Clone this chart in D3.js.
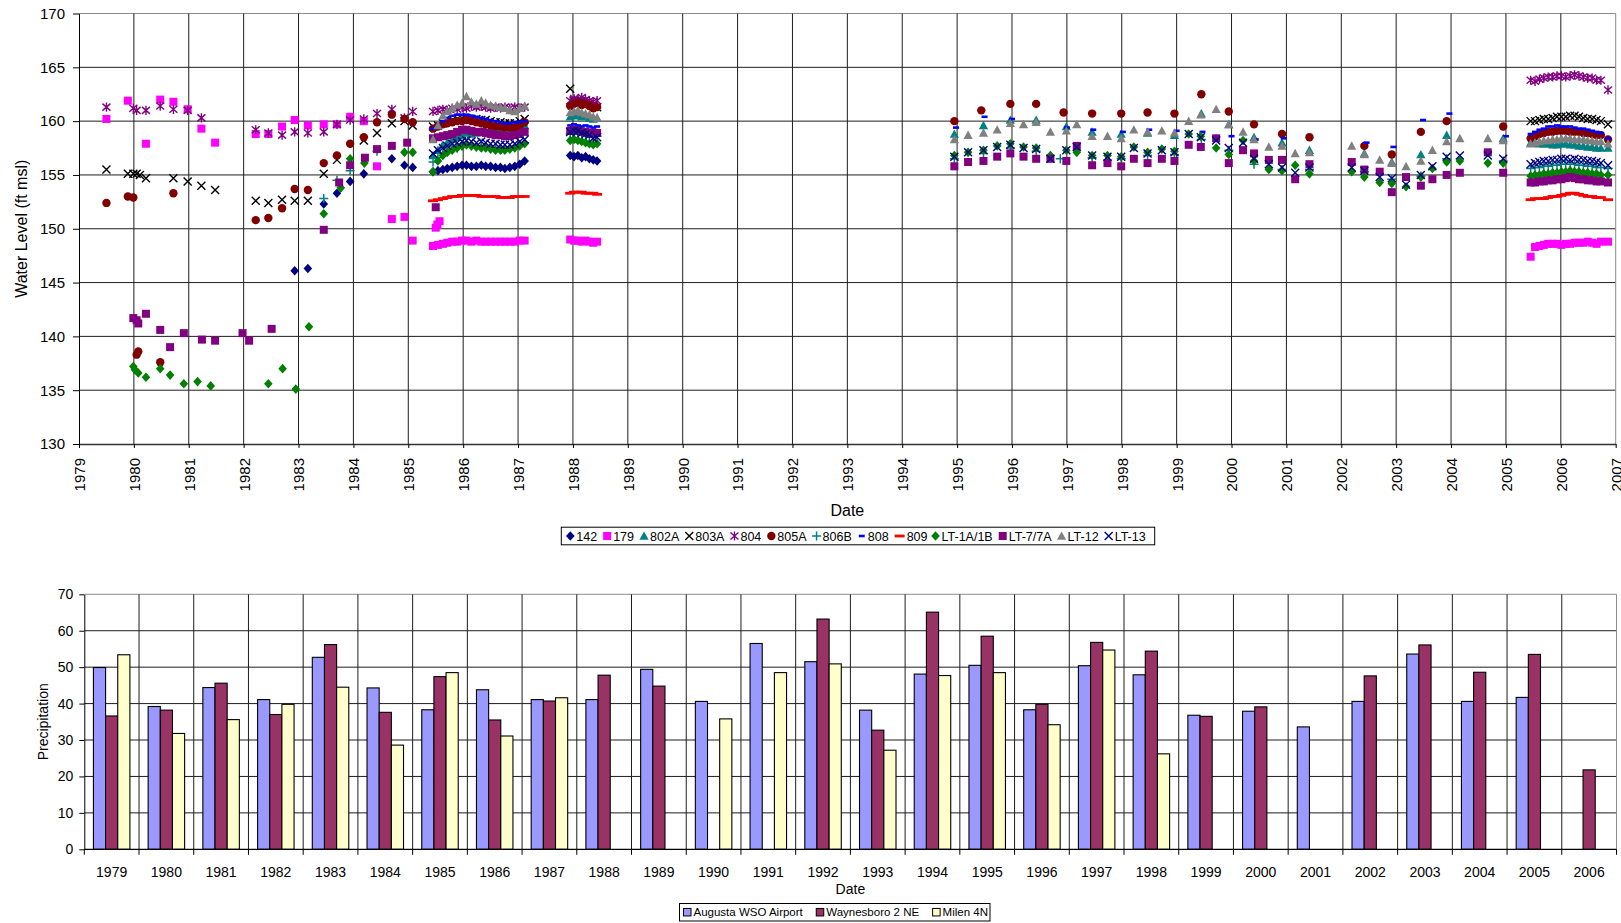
<!DOCTYPE html>
<html><head><meta charset="utf-8">
<script src="https://cdn.jsdelivr.net/npm/d3@7"></script>
<style>body{margin:0;background:#fff;}svg{display:block;font-family:"Liberation Sans",Arial,sans-serif;}</style>
</head><body><svg id="chart" width="1621" height="923"></svg>
<script>
// ================= DATA =================
const stationNames = ["142","179","802A","803A","804","805A","806B","808","809","LT-1A/1B","LT-7/7A","LT-12","LT-13"];
const yearTicks = [1979,1980,1981,1982,1983,1984,1985,1986,1987,1988,1989,1990,1991,1992,1993,1994,1995,1996,1997,1998,1999,2000,2001,2002,2003,2004,2005,2006,2007];
const levelTicks = [130,135,140,145,150,155,160,165,170];

// sparse observations [decimal year, water level]
const sp142 = [[1982.93,146.1],[1983.17,146.3],[1983.46,152.3],[1983.70,153.3],[1983.94,154.4],[1984.19,155.1],[1984.70,156.5],[1984.93,155.9],[1985.08,155.7]];
const sp179 = [[1979.50,160.2],[1979.89,161.9],[1980.22,157.9],[1980.48,162.0],[1980.72,161.8],[1980.98,161.1],[1981.23,159.3],[1981.48,158.0],[1982.22,158.8],[1982.45,158.8],[1982.70,159.5],[1982.93,160.1],[1983.17,159.6],[1983.46,159.7],[1983.70,159.7],[1983.94,160.4],[1984.19,160.0],[1984.43,155.8],[1984.70,150.9],[1984.93,151.1],[1985.08,148.9],[1985.50,150.1],[1985.53,150.4],[1985.57,150.7]];
const sp802A = [[1994.95,158.8],[1995.48,159.6],[1995.97,160.1],[1996.44,160.1],[1996.99,159.5],[1997.46,159.0],[1997.99,158.8],[1998.47,158.9],[1998.96,158.7],[1999.45,160.7],[1999.95,159.7],[2000.41,158.5],[2000.92,158.0],[2001.42,157.3],[2002.42,157.0],[2002.92,156.2],[2003.45,156.9],[2003.92,158.7],[2004.95,158.4]];
const sp803A = [[1979.50,155.5],[1979.89,155.1],[1979.99,155.1],[1980.05,155.1],[1980.11,155.0],[1980.22,154.7],[1980.72,154.7],[1980.98,154.4],[1981.23,154.0],[1981.48,153.6],[1982.22,152.6],[1982.45,152.4],[1982.70,152.7],[1982.93,152.6],[1983.17,152.6],[1983.46,155.1],[1983.70,156.4],[1984.19,158.2],[1984.43,158.9],[1984.70,159.8],[1984.93,160.0],[1985.08,159.6]];
const sp804 = [[1979.50,161.3],[1979.99,161.2],[1980.05,161.0],[1980.22,161.0],[1980.48,161.4],[1980.72,161.1],[1980.98,161.0],[1981.23,160.3],[1982.22,159.2],[1982.45,158.9],[1982.70,158.7],[1982.93,159.0],[1983.17,158.9],[1983.46,159.0],[1983.70,159.7],[1983.94,160.1],[1984.19,160.2],[1984.43,160.7],[1984.70,161.1],[1984.93,160.3],[1985.08,160.9]];
const sp805A = [[1979.50,152.4],[1979.89,153.0],[1979.99,152.9],[1980.05,138.3],[1980.08,138.6],[1980.48,137.6],[1980.72,153.3],[1982.22,150.8],[1982.45,151.0],[1982.70,151.9],[1982.93,153.7],[1983.17,153.6],[1983.46,156.1],[1983.70,156.8],[1983.94,157.9],[1984.19,158.5],[1984.43,159.9],[1984.70,160.6],[1984.93,160.2],[1985.08,159.9],[1994.95,160.0],[1995.44,161.0],[1995.97,161.6],[1996.44,161.6],[1996.94,160.8],[1997.46,160.7],[1997.99,160.7],[1998.47,160.8],[1998.96,160.7],[1999.45,162.5],[1999.95,160.9],[2000.41,159.7],[2000.92,158.8],[2001.42,158.5],[2002.42,157.7],[2002.92,156.9],[2003.45,159.0],[2003.92,160.0],[2004.95,159.5]];
const sp806B = [[1983.46,152.8],[1983.70,154.5],[1983.94,155.4],[1984.43,157.2],[1994.95,156.5],[1995.48,157.0],[1995.97,157.5],[1996.44,157.2],[1996.88,156.5],[1997.46,156.6],[1997.99,156.5],[1998.47,156.8],[1998.96,156.9],[1999.45,158.3],[1999.95,157.3],[2000.41,156.0],[2000.92,155.5],[2001.42,155.5],[2002.42,155.3],[2002.92,154.6],[2003.45,154.9],[2003.92,156.5],[2004.95,156.3]];
const sp808 = [[1994.98,159.4],[1995.50,160.4],[1996.00,160.2],[1997.00,159.4],[1997.48,159.2],[1998.02,159.0],[1998.50,159.2],[1999.00,159.1],[1999.47,159.0],[2000.00,158.6],[2000.44,158.3],[2000.95,158.4],[2002.46,158.0],[2002.95,157.6],[2003.49,160.1],[2003.97,160.7],[2005.00,158.6]];
const sp809 = [];
const spLT1 = [[1979.99,137.2],[1980.02,136.9],[1980.08,136.6],[1980.22,136.2],[1980.48,137.0],[1980.66,136.4],[1980.91,135.6],[1981.16,135.8],[1981.40,135.4],[1982.45,135.6],[1982.71,137.0],[1982.95,135.1],[1983.19,140.9],[1983.46,151.4],[1983.77,153.8],[1983.94,156.5],[1984.20,156.1],[1984.93,157.1],[1985.08,157.1],[1994.95,156.8],[1995.20,157.1],[1995.48,157.3],[1995.73,157.7],[1995.97,157.9],[1996.21,157.6],[1996.44,157.5],[1996.70,156.8],[1996.99,157.3],[1997.18,157.1],[1997.46,156.8],[1997.74,156.8],[1997.99,156.7],[1998.22,157.6],[1998.47,157.1],[1998.73,157.4],[1998.96,157.2],[1999.22,158.8],[1999.44,158.6],[1999.72,157.5],[1999.95,156.9],[2000.21,158.2],[2000.41,156.3],[2000.68,155.5],[2000.92,155.4],[2001.16,155.9],[2001.42,155.1],[2002.19,155.3],[2002.42,154.8],[2002.70,154.3],[2002.92,154.2],[2003.18,153.9],[2003.45,154.8],[2003.66,155.6],[2003.92,156.2],[2004.16,156.3],[2004.67,156.1],[2004.95,156.1]];
const spLT7 = [[1979.99,141.7],[1980.05,141.5],[1980.08,141.2],[1980.22,142.1],[1980.48,140.6],[1980.66,139.0],[1980.91,140.3],[1981.24,139.7],[1981.48,139.6],[1981.98,140.3],[1982.10,139.6],[1982.51,140.7],[1983.46,149.9],[1983.74,154.3],[1983.94,155.9],[1984.21,156.6],[1984.43,157.4],[1984.70,157.7],[1984.98,158.0],[1985.50,152.0],[1994.95,155.8],[1995.20,156.2],[1995.48,156.3],[1995.73,156.7],[1995.97,157.0],[1996.21,156.7],[1996.44,156.5],[1996.70,156.5],[1996.99,156.3],[1997.18,157.7],[1997.46,155.9],[1997.74,156.1],[1997.99,155.8],[1998.22,156.5],[1998.47,156.1],[1998.73,156.5],[1998.96,156.3],[1999.22,157.8],[1999.44,157.6],[1999.72,158.4],[1999.95,156.1],[2000.21,157.3],[2000.41,157.0],[2000.68,156.4],[2000.92,156.4],[2001.16,154.6],[2001.42,156.0],[2002.19,156.2],[2002.42,155.5],[2002.70,155.3],[2002.92,153.4],[2003.18,154.8],[2003.45,154.0],[2003.66,154.6],[2003.92,155.0],[2004.16,155.2],[2004.67,157.1],[2004.95,155.2]];
const spLT12 = [[1994.95,158.3],[1995.20,158.7],[1995.48,158.9],[1995.73,159.2],[1995.97,159.8],[1996.21,159.7],[1996.44,159.9],[1996.70,159.0],[1996.99,159.1],[1997.18,159.7],[1997.46,158.6],[1997.74,158.6],[1997.99,158.4],[1998.22,159.2],[1998.47,159.0],[1998.73,159.1],[1998.96,158.9],[1999.22,160.0],[1999.44,160.6],[1999.72,161.1],[1999.95,159.7],[2000.21,159.0],[2000.41,158.3],[2000.68,157.6],[2000.92,157.7],[2001.16,157.0],[2001.42,157.1],[2002.19,157.7],[2002.42,156.9],[2002.70,156.4],[2002.92,156.1],[2003.18,155.8],[2003.45,156.3],[2003.66,157.3],[2003.92,158.1],[2004.16,158.4],[2004.67,158.4],[2004.95,158.2]];
const spLT13 = [[1994.95,156.7],[1995.20,157.1],[1995.48,157.3],[1995.73,157.6],[1995.97,157.8],[1996.21,157.5],[1996.44,157.4],[1996.70,156.5],[1996.99,157.3],[1997.18,157.6],[1997.46,156.8],[1997.74,156.7],[1997.99,156.7],[1998.22,157.5],[1998.47,157.0],[1998.73,157.3],[1998.96,157.1],[1999.22,158.8],[1999.44,158.5],[1999.72,158.2],[1999.95,157.5],[2000.21,158.0],[2000.41,156.5],[2000.68,156.0],[2000.92,155.7],[2001.16,155.2],[2001.42,155.7],[2002.19,155.7],[2002.42,155.4],[2002.70,154.8],[2002.92,154.7],[2003.18,154.1],[2003.45,155.0],[2003.66,155.8],[2003.92,156.7],[2004.16,156.8],[2004.67,156.8],[2004.95,156.5]];

// dense monitoring periods: dates and per-station values
const datesA = [1985.45,1985.54,1985.63,1985.71,1985.80,1985.89,1985.98,1986.06,1986.15,1986.24,1986.33,1986.41,1986.50,1986.59,1986.68,1986.76,1986.85,1986.94,1987.03,1987.12];
const datesB = [1987.95,1988.02,1988.09,1988.16,1988.23,1988.30,1988.37,1988.44];
const datesC = [2005.45,2005.53,2005.61,2005.69,2005.77,2005.85,2005.93,2006.01,2006.09,2006.17,2006.25,2006.33,2006.41,2006.49,2006.57,2006.65,2006.73,2006.86];

const a142 = [155.3,155.4,155.5,155.6,155.7,155.8,155.9,155.9,155.8,155.8,155.9,155.8,155.8,155.7,155.7,155.6,155.7,155.8,156.0,156.3];
const a179 = [148.4,148.5,148.6,148.7,148.8,148.8,148.9,148.9,148.8,148.9,148.8,148.8,148.8,148.8,148.8,148.8,148.8,148.8,148.9,148.9];
const a802A = [156.8,157.3,157.8,158.0,158.3,158.5,158.7,158.9,158.8,158.9,159.0,159.1,159.2,159.3,159.3,159.2,159.3,159.4,159.5,159.6];
const a803A = [159.5,159.6,159.8,160.0,160.1,160.2,160.3,160.3,160.2,160.2,160.1,160.1,160.0,159.9,159.9,159.8,159.8,159.8,160.0,160.2];
const a804 = [160.9,161.0,161.1,161.0,161.2,161.1,161.3,161.2,161.4,161.3,161.4,161.3,161.2,161.3,161.2,161.3,161.2,161.3,161.2,161.3];
const a805A = [159.3,159.5,159.7,159.8,159.9,160.0,160.0,160.1,160.0,159.9,159.8,159.7,159.6,159.5,159.5,159.4,159.4,159.4,159.6,159.9];
const a806B = [156.2,156.6,157.0,157.2,157.4,157.5,157.7,157.8,157.7,157.6,157.7,157.6,157.5,157.5,157.4,157.4,157.5,157.6,157.8,158.0];
const a808 = [159.3,159.6,160.0,160.3,160.5,160.6,160.6,160.6,160.5,160.4,160.3,160.2,160.1,160.0,159.9,159.8,159.8,159.9,159.9,160.0];
const a809 = [152.6,152.7,152.8,152.9,153.0,153.0,153.1,153.1,153.1,153.1,153.0,153.0,153.0,153.0,152.9,152.9,152.9,153.0,153.0,153.0];
const aLT1 = [155.3,156.3,156.8,157.1,157.3,157.5,157.7,157.8,157.7,157.6,157.5,157.5,157.4,157.3,157.3,157.3,157.4,157.5,157.7,157.9];
const aLT7 = [158.4,158.5,158.6,158.7,158.8,159.0,159.2,159.2,159.1,159.0,159.0,158.9,158.8,158.7,158.7,158.6,158.6,158.7,158.8,159.0];
const aLT12 = [158.3,159.6,160.5,160.9,161.2,161.5,161.7,162.3,161.8,161.6,161.9,161.7,161.5,161.4,161.3,161.2,161.0,160.9,161.2,161.4];
const aLT13 = [157.0,157.3,157.5,157.7,157.9,158.0,158.1,158.2,158.1,158.0,158.1,158.0,157.9,157.9,157.8,157.8,157.8,157.9,158.1,158.3];

const b142 = [156.8,156.7,156.8,156.6,156.7,156.5,156.4,156.3];
const b179 = [149.0,148.9,148.9,148.8,148.9,148.8,148.7,148.8];
const b802A = [160.4,160.5,160.6,160.4,160.5,160.3,160.2,160.3];
const b803A = [163.0,161.9,161.8,161.9,161.7,161.6,161.4,161.3];
const b804 = [161.9,162.1,162.0,162.2,162.0,161.9,161.8,161.9];
const b805A = [161.4,161.6,161.7,161.5,161.6,161.4,161.2,161.3];
const b806B = [158.8,158.9,158.8,158.7,158.8,158.6,158.5,158.6];
const b808 = [159.6,159.7,159.6,159.5,159.6,159.5,159.4,159.5];
const b809 = [153.3,153.4,153.4,153.4,153.3,153.3,153.3,153.2];
const bLT1 = [158.2,158.3,158.2,158.1,158.0,157.9,157.8,157.9];
const bLT7 = [159.1,159.2,159.1,159.0,159.0,158.9,158.8,158.9];
const bLT12 = [160.8,160.9,161.0,160.8,160.7,160.6,160.4,160.3];
const bLT13 = [159.0,159.1,159.1,158.9,158.8,158.7,158.4,158.5];

const c142 = [];
const c179 = [147.4,148.3,148.4,148.5,148.6,148.6,148.6,148.5,148.6,148.6,148.7,148.7,148.7,148.8,148.7,148.6,148.8,148.8];
const c802A = [158.0,158.0,157.9,157.9,157.9,157.8,157.8,157.9,157.9,157.8,157.8,157.7,157.7,157.6,157.6,157.5,157.5,157.5];
const c803A = [160.0,160.0,160.1,160.2,160.2,160.3,160.4,160.4,160.4,160.5,160.5,160.4,160.3,160.2,160.2,160.1,160.0,159.7];
const c804 = [163.8,163.7,163.9,164.0,164.1,164.1,164.2,164.2,164.1,164.2,164.3,164.2,164.1,164.0,164.0,163.8,163.8,162.9];
const c805A = [158.4,158.6,158.8,158.9,159.0,159.0,159.1,159.1,159.1,159.0,159.0,159.0,158.9,158.9,158.8,158.7,158.7,158.3];
const c806B = [155.6,155.7,155.7,155.8,155.8,155.9,155.9,156.0,156.0,156.0,156.0,155.9,155.9,155.8,155.8,155.7,155.7,155.6];
const c808 = [158.8,159.0,159.2,159.3,159.5,159.5,159.6,159.5,159.5,159.5,159.4,159.3,159.3,159.2,159.1,159.0,158.9,158.4];
const c809 = [152.7,152.8,152.8,152.8,152.9,153.0,153.0,153.1,153.2,153.3,153.3,153.2,153.1,153.0,153.0,152.9,152.9,152.7];
const cLT1 = [154.9,155.0,155.0,155.1,155.1,155.2,155.2,155.3,155.3,155.4,155.3,155.3,155.2,155.2,155.1,155.1,155.0,155.0];
const cLT7 = [154.3,154.3,154.4,154.4,154.5,154.5,154.6,154.6,154.7,154.8,154.7,154.6,154.6,154.5,154.5,154.4,154.4,154.3];
const cLT12 = [157.9,158.0,158.1,158.2,158.2,158.3,158.3,158.4,158.4,158.4,158.3,158.3,158.3,158.2,158.2,158.1,158.1,157.9];
const cLT13 = [156.0,156.1,156.2,156.3,156.3,156.4,156.4,156.5,156.5,156.4,156.5,156.4,156.4,156.3,156.3,156.2,156.1,155.9];

// annual precipitation
const precipYears = ["1979","1980","1981","1982","1983","1984","1985","1986","1987","1988","1989","1990","1991","1992","1993","1994","1995","1996","1997","1998","1999","2000","2001","2002","2003","2004","2005","2006"];
const precipNames = ["Augusta WSO Airport","Waynesboro 2 NE","Milen 4N"];
const augusta = [49.9,39.2,44.4,41.1,52.7,44.3,38.3,43.8,41.1,41.1,49.4,40.6,56.5,51.5,38.2,48.1,50.5,38.3,50.4,47.9,36.8,37.9,33.6,40.6,53.6,40.6,41.7,null];
const waynesboro = [36.6,38.2,45.6,37.0,56.2,37.6,47.4,35.5,40.7,47.8,44.8,null,null,63.2,32.7,65.1,58.5,39.8,56.8,54.4,36.5,39.1,null,47.6,56.1,48.6,53.5,21.8];
const milen = [53.4,31.8,35.6,39.8,44.5,28.6,48.5,31.1,41.6,null,null,35.8,48.5,50.9,27.2,47.7,48.5,34.2,54.7,26.2,null,null,null,null,null,null,null,null];
const precipTicks = [0,10,20,30,40,50,60,70];

// ================= STYLES =================
const sparse = [sp142,sp179,sp802A,sp803A,sp804,sp805A,sp806B,sp808,sp809,spLT1,spLT7,spLT12,spLT13];
const clA = [a142,a179,a802A,a803A,a804,a805A,a806B,a808,a809,aLT1,aLT7,aLT12,aLT13];
const clB = [b142,b179,b802A,b803A,b804,b805A,b806B,b808,b809,bLT1,bLT7,bLT12,bLT13];
const clC = [c142,c179,c802A,c803A,c804,c805A,c806B,c808,c809,cLT1,cLT7,cLT12,cLT13];
const shapes = ["diamond","square","triangle","x","star","circle","plus","dash","longdash","diamond","square","triangle","x"];
const colors = ["#000080","#FF00FF","#008080","#000000","#800080","#800000","#008080","#0000FF","#FF0000","#008000","#800080","#808080","#000080"];
const barColors = ["#9999FF","#993366","#FFFFCC"];

const svg = d3.select("#chart");
const FONT = '"Liberation Sans", Arial, sans-serif';
const GRID = "#1e1e1e", BORDER = "#8c8c8c";

function drawMarker(sel, shape, color){
  if (shape==="circle") return sel.append("circle").attr("r",4.2).attr("fill",color);
  if (shape==="square") return sel.append("rect").attr("x",-4).attr("y",-4).attr("width",8).attr("height",8).attr("fill",color);
  if (shape==="diamond") return sel.append("path").attr("d","M0,-4.8L4.3,0L0,4.8L-4.3,0Z").attr("fill",color);
  if (shape==="triangle") return sel.append("path").attr("d","M0,-4.6L4.6,3.8L-4.6,3.8Z").attr("fill",color);
  if (shape==="x") return sel.append("path").attr("d","M-4,-4L4,4M-4,4L4,-4").attr("stroke",color).attr("stroke-width",1.4).attr("fill","none");
  if (shape==="star") return sel.append("path").attr("d","M-4,-3.5L4,3.5M-4,3.5L4,-3.5M0,-4.6L0,4.6").attr("stroke",color).attr("stroke-width",1.4).attr("fill","none");
  if (shape==="plus") return sel.append("path").attr("d","M-4.5,0L4.5,0M0,-4.5L0,4.5").attr("stroke",color).attr("stroke-width",1.5).attr("fill","none");
  if (shape==="dash") return sel.append("rect").attr("x",-3).attr("y",-1.3).attr("width",6).attr("height",2.6).attr("fill",color);
  if (shape==="longdash") return sel.append("rect").attr("x",-5).attr("y",-1.4).attr("width",10).attr("height",2.8).attr("fill",color);
}

// ================= TOP CHART =================
const P1 = {l:79, r:1615.7, t:13.5, b:444};
const x1 = d3.scaleLinear().domain([yearTicks[0], yearTicks[yearTicks.length-1]]).range([P1.l, P1.r]);
const y1 = d3.scaleLinear().domain([levelTicks[0], levelTicks[levelTicks.length-1]]).range([P1.b, P1.t]);
const g1 = svg.append("g");

g1.append("g").selectAll("line").data(levelTicks.slice(1)).join("line")
  .attr("x1",P1.l).attr("x2",P1.r).attr("y1",d=>y1(d)).attr("y2",d=>y1(d))
  .attr("stroke",(d,i,a)=> i===a.length-1 ? BORDER : GRID).attr("stroke-width",1);
g1.append("g").selectAll("line").data(yearTicks.slice(1)).join("line")
  .attr("x1",d=>x1(d)).attr("x2",d=>x1(d)).attr("y1",P1.t).attr("y2",P1.b)
  .attr("stroke",(d,i,a)=> i===a.length-1 ? BORDER : GRID).attr("stroke-width",1);

// data points
const ptsG = g1.append("g");
stationNames.forEach((name, si) => {
  const pts = sparse[si].slice();
  [[datesA, clA[si]], [datesB, clB[si]], [datesC, clC[si]]].forEach(([ds, vs]) => {
    vs.forEach((v, i) => { if (v != null) pts.push([ds[i], v]); });
  });
  const sg = ptsG.append("g");
  pts.forEach(p => {
    const m = sg.append("g").attr("transform", `translate(${x1(p[0])},${y1(p[1])})`);
    drawMarker(m, shapes[si], colors[si]);
  });
});

// axes
const ax1 = g1.append("g").attr("transform",`translate(${P1.l},0)`)
  .call(d3.axisLeft(y1).tickValues(levelTicks).tickSize(6).tickPadding(8).tickSizeOuter(0));
ax1.attr("font-family",FONT).attr("font-size",15);
ax1.selectAll("text").attr("fill","#000");
ax1.selectAll("line").attr("stroke","#000");
ax1.select(".domain").attr("stroke","#000");

const bx1 = g1.append("g").attr("transform",`translate(0,${P1.b})`)
  .call(d3.axisBottom(x1).tickValues(yearTicks).tickFormat(d3.format("d")).tickSize(4).tickSizeOuter(0));
bx1.attr("font-family",FONT).attr("font-size",15);
bx1.select(".domain").attr("stroke","#333").attr("stroke-width",1.4);
bx1.selectAll("line").attr("stroke","#000");
bx1.selectAll("text").attr("fill","#000").attr("transform","rotate(-90)")
  .attr("text-anchor","end").attr("x",-14).attr("y",0).attr("dy","0.36em");

svg.append("text").attr("transform",`translate(21.7,${(P1.t+P1.b)/2}) rotate(-90)`)
  .attr("text-anchor","middle").attr("dy","0.36em").attr("font-size",16).attr("font-family",FONT).text("Water Level (ft msl)");
svg.append("text").attr("x",(P1.l+P1.r)/2).attr("y",516)
  .attr("text-anchor","middle").attr("font-size",16).attr("font-family",FONT).text("Date");

// top legend
const L1 = {x:561.3, y:527.2, w:593.4, h:17.6};
const lg1 = svg.append("g");
lg1.append("rect").attr("x",L1.x).attr("y",L1.y).attr("width",L1.w).attr("height",L1.h).attr("fill","#fff").attr("stroke","#000").attr("stroke-width",1);
const lgItems = lg1.append("g");
const widths = stationNames.map(n => {
  const t = lgItems.append("text").attr("font-size",12.5).attr("font-family",FONT).text(n);
  const w = t.node().getComputedTextLength(); t.remove(); return w;
});
const totalText = d3.sum(widths);
const itemGap = (L1.w - 8 - totalText - stationNames.length*8) / stationNames.length;
let cx = L1.x + 5;
stationNames.forEach((n, i) => {
  const mx = cx + 4 + (shapes[i]==="longdash" ? 1 : 0);
  const m = lgItems.append("g").attr("transform",`translate(${mx},${L1.y + L1.h/2})`);
  drawMarker(m, shapes[i], colors[i]);
  const tx = cx + 10 + (shapes[i]==="longdash" ? 2 : 0);
  lgItems.append("text").attr("x",tx).attr("y",L1.y + L1.h/2).attr("dy","0.36em")
    .attr("font-size",12.5).attr("font-family",FONT).text(n);
  cx = tx + widths[i] + itemGap - 2 - (shapes[i]==="longdash" ? 2 : 0);
});

// ================= BOTTOM CHART =================
const P2 = {l:84.3, r:1616.5, t:594.3, b:849.3};
const x2 = d3.scaleBand().domain(precipYears).range([P2.l, P2.r]).padding(0);
const y2 = d3.scaleLinear().domain([precipTicks[0], precipTicks[precipTicks.length-1]]).range([P2.b, P2.t]);
const bw = x2.bandwidth() / 4.5;
const xs = d3.scaleBand().domain([0,1,2]).range([0, 3*bw]).padding(0);
const off = (x2.bandwidth() - 3*bw) / 2;
const g2 = svg.append("g");

g2.append("g").selectAll("line").data(precipTicks.slice(1)).join("line")
  .attr("x1",P2.l).attr("x2",P2.r).attr("y1",d=>y2(d)).attr("y2",d=>y2(d))
  .attr("stroke",(d,i,a)=> i===a.length-1 ? BORDER : GRID);
const bounds = precipYears.slice(1).map(y => x2(y)).concat([P2.r]);
g2.append("g").selectAll("line").data(bounds).join("line")
  .attr("x1",d=>d).attr("x2",d=>d).attr("y1",P2.t).attr("y2",P2.b)
  .attr("stroke",(d,i,a)=> i===a.length-1 ? BORDER : GRID);

[augusta, waynesboro, milen].forEach((series, si) => {
  const data = precipYears.map((y, i) => ({y, v: series[i]})).filter(d => d.v != null);
  g2.append("g").selectAll("rect").data(data).join("rect")
    .attr("x", d => x2(d.y) + off + xs(si))
    .attr("width", bw)
    .attr("y", d => y2(d.v))
    .attr("height", d => y2(0) - y2(d.v))
    .attr("fill", barColors[si]).attr("stroke","#000").attr("stroke-width",1.1);
});

const ax2 = g2.append("g").attr("transform",`translate(${P2.l},0)`)
  .call(d3.axisLeft(y2).tickValues(precipTicks).tickSize(5).tickPadding(6).tickSizeOuter(0));
ax2.attr("font-family",FONT).attr("font-size",14);
ax2.selectAll("text").attr("fill","#000");
ax2.selectAll("line").attr("stroke","#000");
ax2.select(".domain").attr("stroke","#000");

g2.append("line").attr("x1",P2.l).attr("x2",P2.r).attr("y1",P2.b).attr("y2",P2.b).attr("stroke","#000").attr("stroke-width",1.2);
g2.append("g").selectAll("line").data([P2.l].concat(bounds)).join("line")
  .attr("x1",d=>d).attr("x2",d=>d).attr("y1",P2.b).attr("y2",P2.b+5.5).attr("stroke","#000");
g2.append("g").selectAll("text").data(precipYears).join("text")
  .attr("x", d => x2(d) + x2.bandwidth()/2).attr("y", 877)
  .attr("text-anchor","middle").attr("font-size",14).attr("font-family",FONT).text(d=>d);

svg.append("text").attr("transform",`translate(42.7,${(P2.t+P2.b)/2}) rotate(-90)`)
  .attr("text-anchor","middle").attr("dy","0.36em").attr("font-size",14).attr("font-family",FONT).text("Precipitation");
svg.append("text").attr("x",(P2.l+P2.r)/2).attr("y",894)
  .attr("text-anchor","middle").attr("font-size",14).attr("font-family",FONT).text("Date");

// bottom legend
const L2 = {x:679.5, y:903.5, w:310.5, h:17.5};
const lg2 = svg.append("g");
lg2.append("rect").attr("x",L2.x).attr("y",L2.y).attr("width",L2.w).attr("height",L2.h).attr("fill","#fff").attr("stroke","#000");
const w2 = precipNames.map(n => {
  const t = lg2.append("text").attr("font-size",11.5).attr("font-family",FONT).text(n);
  const w = t.node().getComputedTextLength(); t.remove(); return w;
});
const gap2 = (L2.w - 6 - d3.sum(w2) - precipNames.length*10) / (precipNames.length - 1);
let cx2 = L2.x + 4;
precipNames.forEach((n, i) => {
  lg2.append("rect").attr("x",cx2).attr("y",L2.y + L2.h/2 - 3.8).attr("width",7.5).attr("height",7.5)
    .attr("fill",barColors[i]).attr("stroke","#000").attr("stroke-width",1);
  lg2.append("text").attr("x",cx2+10).attr("y",L2.y + L2.h/2).attr("dy","0.36em")
    .attr("font-size",11.5).attr("font-family",FONT).text(n);
  cx2 += 10 + w2[i] + gap2;
});
</script></body></html>
